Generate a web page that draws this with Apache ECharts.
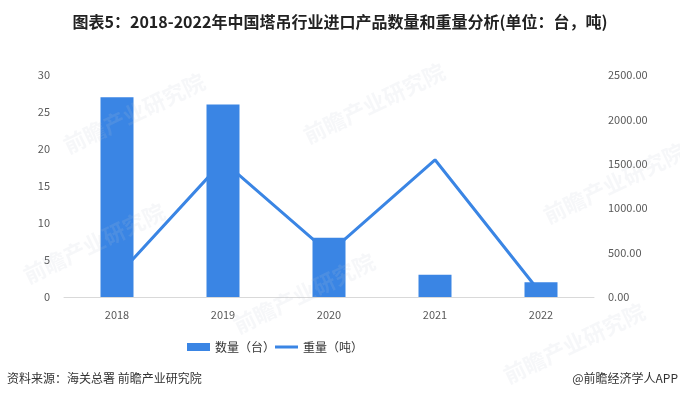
<!DOCTYPE html>
<html>
<head>
<meta charset="utf-8">
<script src="https://cdn.jsdelivr.net/npm/echarts@6/dist/echarts.min.js"></script>
<style>
html,body{margin:0;padding:0;background:#fff;}
#chart{width:680px;height:399px;}
</style>
</head>
<body>
<div id="chart"></div>
<script>
const titleText = '图表5：2018-2022年中国塔吊行业进口产品数量和重量分析(单位：台，吨)';
const sourceText = '资料来源：海关总署 前瞻产业研究院';
const creditText = '@前瞻经济学人APP';
const categories = ['2018', '2019', '2020', '2021', '2022'];
const countName = '数量（台）';
const weightName = '重量（吨）';
const countValues = [27, 26, 8, 3, 2];
const weightValues = [230, 1530, 495, 1545, 40];

const C = '#3a85e4';
const font = '"Noto Sans CJK SC", "Noto Sans", sans-serif';

const wm = (x, y) => ({
  type: 'text', left: x, top: y, rotation: Math.PI / 7, z: 100, silent: true,
  style: { text: '前瞻产业研究院', fill: 'rgba(190,198,212,0.14)', font: 'bold 22px ' + font }
});

const chart = echarts.init(document.getElementById('chart'));
chart.setOption({
  animation: false,
  textStyle: { fontFamily: font },
  title: {
    text: titleText, left: 'center', top: 9,
    textStyle: { fontSize: 16, fontWeight: 'bold', color: '#222', fontFamily: font }
  },
  legend: [
    {
      top: 336, left: 182, itemWidth: 23, itemHeight: 8, itemGap: 3,
      textStyle: { fontSize: 12, color: '#333' },
      data: [{ name: countName, icon: 'rect' }]
    },
    {
      top: 336, left: 270, itemWidth: 23, itemHeight: 3, itemGap: 3,
      textStyle: { fontSize: 12, color: '#333' },
      data: [{ name: weightName, icon: 'rect' }]
    }
  ],
  grid: { left: 64, right: 86, top: 75, bottom: 102 },
  xAxis: {
    type: 'category', data: categories,
    axisLine: { lineStyle: { color: '#d9d9d9' } },
    axisTick: { show: false },
    axisLabel: { color: '#595959', fontSize: 11, margin: 12 }
  },
  yAxis: [
    {
      type: 'value', min: 0, max: 30, interval: 5,
      axisLine: { show: false }, axisTick: { show: false }, splitLine: { show: false },
      axisLabel: { color: '#595959', fontSize: 11, margin: 14 }
    },
    {
      type: 'value', min: 0, max: 2500, interval: 500,
      axisLine: { show: false }, axisTick: { show: false }, splitLine: { show: false },
      axisLabel: { color: '#595959', fontSize: 11, margin: 14, formatter: v => v.toFixed(2) }
    }
  ],
  series: [
    {
      name: countName, type: 'bar', data: countValues, yAxisIndex: 0,
      barWidth: 33, itemStyle: { color: C }, z: 3
    },
    {
      name: weightName, type: 'line', data: weightValues, yAxisIndex: 1,
      showSymbol: false, symbol: 'none', lineStyle: { color: C, width: 3 },
      itemStyle: { color: C }, z: 2
    }
  ],
  graphic: [
    { type: 'text', left: 7, top: 372, style: { text: sourceText, fill: '#333', font: '12px ' + font } },
    { type: 'text', right: 2, top: 372, style: { text: creditText, fill: '#333', font: '12px ' + font } },
    wm(60, 70), wm(300, 60), wm(540, 140), wm(20, 200), wm(230, 250), wm(500, 300)
  ]
});
</script>
</body>
</html>
